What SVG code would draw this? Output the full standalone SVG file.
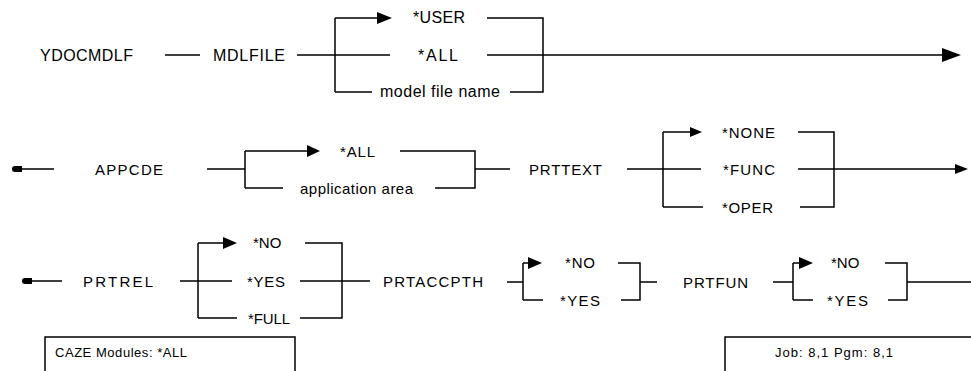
<svg xmlns="http://www.w3.org/2000/svg" width="971" height="371" viewBox="0 0 971 371">
<style>
.t{font-family:"Liberation Sans",Arial,sans-serif;font-size:16px;fill:#000}
.u{font-family:"Liberation Sans",Arial,sans-serif;font-size:15px;fill:#000}
.s{font-family:"Liberation Sans",Arial,sans-serif;font-size:13px;fill:#000}
.ln{stroke:#000;stroke-width:1.5;fill:none}
.ah{fill:#000}
.box{fill:#fff;stroke:#000;stroke-width:1.5}
</style>
<rect width="971" height="371" fill="#fff"/>
<g id="connectors">
<path class="ln" d="M165,55H200 M297,55H390 M335,18V92 M335,18H380 M335,92H372 M487,18H543V92H510 M487,55H945"/>
<polygon class="ah" points="377,12 392,18 377,24"/>
<polygon class="ah" points="942,48 961,55 942,62"/>
<path class="ln" d="M20,169H54 M207,169H245 M245,151V188 M245,151H310 M245,188H283 M400,151H475V188H435 M475,169H510 M627,169H663 M663,132V207 M663,132H692 M663,169H701 M663,207H703 M798,132H834V207H800 M798,169H958"/>
<polygon class="ah" points="307,145 320,151 307,157"/>
<polygon class="ah" points="690,127 702,132 690,137"/>
<polygon class="ah" points="955,164 968,169 955,174"/>
<path class="ah" d="M22,166 L15,166 Q12,166 12,169 Q12,172 15,172 L22,172 Z"/>
<path class="ln" d="M30,281H62 M180,281H232 M198,243V318 M198,243H226 M198,318H237 M305,243H342V318H300 M300,281H370 M507,282H523 M523,263V300 M523,263H530 M523,300H543 M618,263H640V300H621 M640,282H657 M773,282H793 M793,263V300 M793,263H800 M793,300H813 M885,263H907V300H888 M907,282H971"/>
<polygon class="ah" points="223,237 237,243 223,249"/>
<polygon class="ah" points="528,257 542,263 528,269"/>
<polygon class="ah" points="799,257 813,263 799,269"/>
<path class="ah" d="M32,278 L25,278 Q22,278 22,281 Q22,284 25,284 L32,284 Z"/>
</g>
<g id="n-ydocmdlf"><text class="t" x="40" y="61" textLength="93" lengthAdjust="spacing">YDOCMDLF</text></g>
<g id="n-mdlfile"><text class="t" x="213" y="61" textLength="72" lengthAdjust="spacing">MDLFILE</text></g>
<g id="n-user"><text class="t" x="413" y="23" textLength="52" lengthAdjust="spacing">*USER</text></g>
<g id="n-all1"><text class="t" x="418" y="61" textLength="40" lengthAdjust="spacing">*ALL</text></g>
<g id="n-mfn"><text class="t" x="380" y="97" textLength="120" lengthAdjust="spacing">model file name</text></g>
<g id="n-appcde"><text class="u" x="95" y="175" textLength="68" lengthAdjust="spacing">APPCDE</text></g>
<g id="n-all2"><text class="u" x="340" y="157" textLength="35" lengthAdjust="spacing">*ALL</text></g>
<g id="n-apparea"><text class="u" x="300" y="194" textLength="113" lengthAdjust="spacing">application area</text></g>
<g id="n-prttext"><text class="u" x="529" y="175" textLength="73" lengthAdjust="spacing">PRTTEXT</text></g>
<g id="n-none"><text class="u" x="722" y="138" textLength="53" lengthAdjust="spacing">*NONE</text></g>
<g id="n-func"><text class="u" x="723" y="175" textLength="52" lengthAdjust="spacing">*FUNC</text></g>
<g id="n-oper"><text class="u" x="722" y="213" textLength="51" lengthAdjust="spacing">*OPER</text></g>
<g id="n-prtrel"><text class="u" x="83" y="287" textLength="70" lengthAdjust="spacing">PRTREL</text></g>
<g id="n-no1"><text class="u" x="253" y="248">*NO</text></g>
<g id="n-yes1"><text class="u" x="247" y="287" textLength="38" lengthAdjust="spacing">*YES</text></g>
<g id="n-full"><text class="u" x="248" y="324" textLength="42" lengthAdjust="spacing">*FULL</text></g>
<g id="n-prtaccpth"><text class="u" x="383" y="287" textLength="100" lengthAdjust="spacing">PRTACCPTH</text></g>
<g id="n-no2"><text class="u" x="565" y="268" textLength="30" lengthAdjust="spacing">*NO</text></g>
<g id="n-yes2"><text class="u" x="560" y="306" textLength="40" lengthAdjust="spacing">*YES</text></g>
<g id="n-prtfun"><text class="u" x="683" y="288" textLength="65" lengthAdjust="spacing">PRTFUN</text></g>
<g id="n-no3"><text class="u" x="831" y="268">*NO</text></g>
<g id="n-yes3"><text class="u" x="827" y="306" textLength="41" lengthAdjust="spacing">*YES</text></g>
<g id="n-caze">
<rect class="box" x="45" y="337" width="250" height="40"/>
<text class="s" x="55" y="357" textLength="132" lengthAdjust="spacing">CAZE Modules: *ALL</text>
</g>
<g id="n-job">
<rect class="box" x="725" y="337" width="260" height="40"/>
<text class="s" x="775" y="357" textLength="118" lengthAdjust="spacing">Job: 8,1   Pgm: 8,1</text>
</g>
</svg>
